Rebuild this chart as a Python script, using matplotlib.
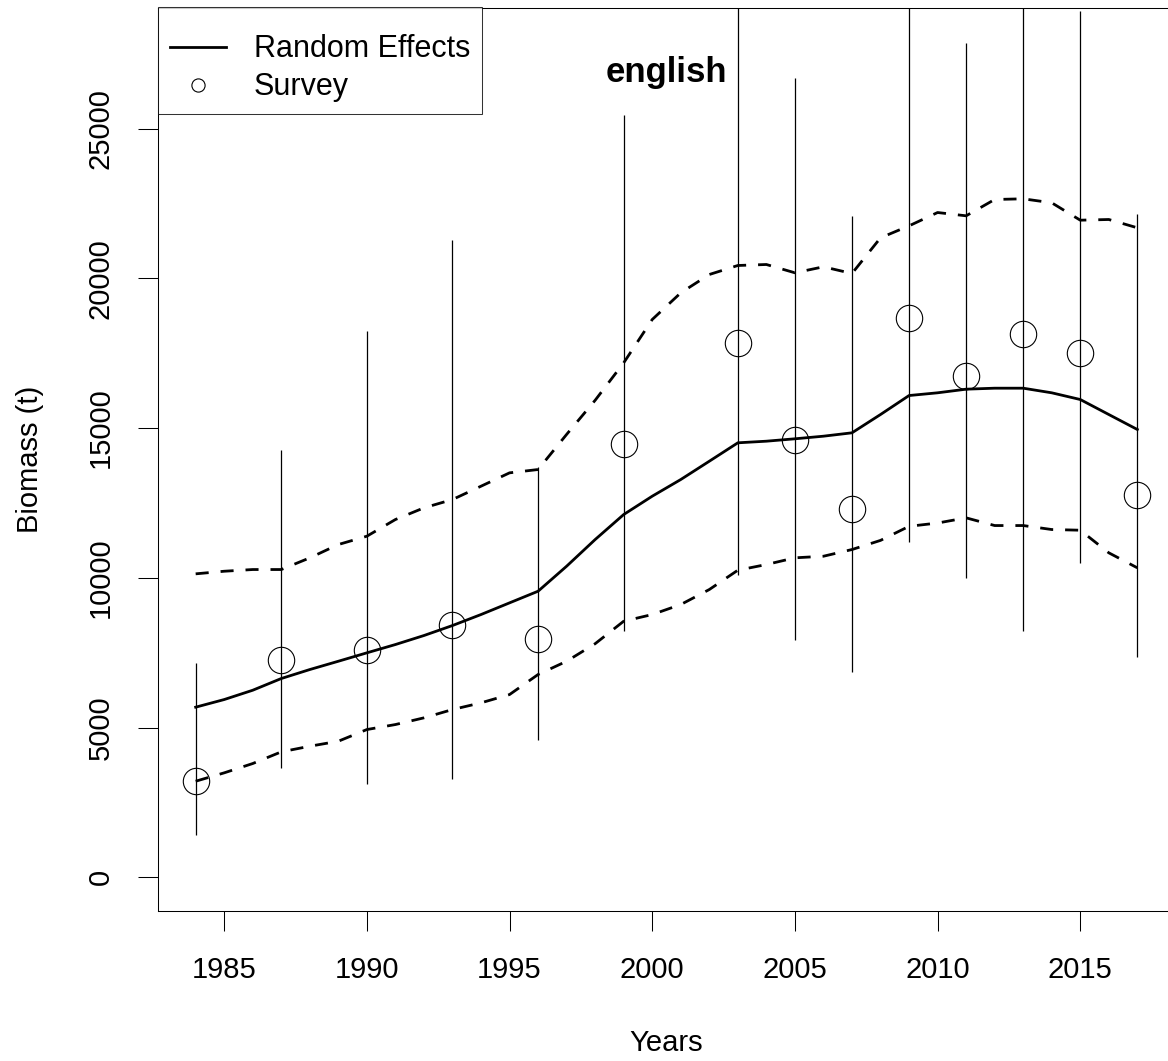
import matplotlib
matplotlib.use('Agg')
import matplotlib.pyplot as plt
from matplotlib.lines import Line2D

plt.rcParams['font.family'] = ['Liberation Sans', 'DejaVu Sans']

# Random effects estimate with upper / lower bounds (annual)
years = [1984, 1985, 1986, 1987, 1988, 1989, 1990, 1991, 1992, 1993, 1994, 1995,
         1996, 1997, 1998, 1999, 2000, 2001, 2002, 2003, 2004, 2005, 2006, 2007,
         2008, 2009, 2010, 2011, 2012, 2013, 2014, 2015, 2016, 2017]
re_est = [5680, 5935, 6246, 6637, 6937, 7214, 7495, 7772, 8073, 8407, 8774, 9164,
          9553, 10388, 11279, 12114, 12726, 13283, 13894, 14509, 14563, 14643, 14730, 14843,
          15454, 16088, 16179, 16300, 16333, 16333, 16179, 15955, 15454, 14954]
re_upper = [10133, 10220, 10277, 10277, 10667, 11112, 11390, 11947, 12337, 12615, 13060, 13506,
            13617, 14790, 15930, 17180, 18627, 19518, 20130, 20431, 20464, 20187, 20387, 20164,
            21355, 21755, 22200, 22090, 22635, 22658, 22525, 21944, 21967, 21690]
re_lower = [3207, 3487, 3798, 4188, 4376, 4543, 4933, 5100, 5324, 5601, 5825, 6102,
            6771, 7214, 7800, 8551, 8774, 9108, 9609, 10254, 10444, 10668, 10721, 10945,
            11250, 11720, 11830, 12003, 11746, 11746, 11613, 11590, 10835, 10334]

# Survey index with confidence interval
survey_years = [1984, 1987, 1990, 1993, 1996, 1999, 2003, 2005, 2007, 2009, 2011, 2013, 2015, 2017]
survey = [3230, 7272, 7606, 8441, 7963, 14475, 17849, 14619, 12315, 18661, 16734, 18150, 17515, 12782]
survey_lo = [1416, 3654, 3130, 3286, 4576, 8217, 10110, 7939, 6860, 11189, 10000, 8217, 10501, 7370]
survey_hi = [7160, 14285, 18237, 21266, 13700, 25470, 31510, 26700, 22100, 31120, 27870, 40090, 28925, 22150]

W, H = 1168, 1061
fig = plt.figure(figsize=(W / 100, H / 100), dpi=100)
# plot region in pixels: left 158, right 1175 (cut off), top 7.5, bottom 910.7
ax = fig.add_axes([158 / W, (H - 910.7) / H, (1175 - 158) / W, (910.7 - 7.5) / H])

ax.vlines(survey_years, survey_lo, survey_hi, colors='black', linewidth=0.9)
ax.plot(years, re_est, color='black', linewidth=2.0)
ax.plot(years, re_upper, color='black', linewidth=2.0, dashes=(4.7, 4.3))
ax.plot(years, re_lower, color='black', linewidth=2.0, dashes=(4.7, 4.3))
ax.plot(survey_years, survey, linestyle='none', marker='o', markersize=19,
        markerfacecolor='none', markeredgecolor='black', markeredgewidth=0.8)

ax.set_xlim(1982.68, 2018.32)
ax.set_ylim(-1117, 29047)
ax.set_xticks([1985, 1990, 1995, 2000, 2005, 2010, 2015])
ax.set_yticks([0, 5000, 10000, 15000, 20000, 25000])
ax.tick_params(direction='out', length=14.4, width=0.75, labelsize=21, pad=18)
ax.tick_params(axis='y', labelrotation=90, pad=17)
for lab in ax.get_yticklabels():
    lab.set_verticalalignment('center')
for s in ax.spines.values():
    s.set_linewidth(0.75)

ax.set_xlabel('Years', fontsize=21)
ax.xaxis.set_label_coords(0.5, (910.7 - 1043) / 903.2)
ax.xaxis.label.set_verticalalignment('center')
ax.set_ylabel('Biomass (t)', fontsize=21)
ax.yaxis.set_label_coords((30 - 158) / 1017, 0.5)
ax.yaxis.label.set_verticalalignment('center')

ax.text(0.5, (910.7 - 82) / 903.2, 'english', transform=ax.transAxes,
        ha='center', va='baseline', fontsize=25, fontweight='bold')

handles = [Line2D([], [], color='black', linewidth=2.0),
           Line2D([], [], linestyle='none', marker='o', markersize=9.5,
                  markerfacecolor='none', markeredgecolor='black', markeredgewidth=0.8)]
# blank tiny title gives the extra room above the first row, as in R's legend box
leg = ax.legend(handles, ['Random Effects', 'Survey'], loc='upper left',
                bbox_to_anchor=(0, 1), borderaxespad=0, fontsize=22,
                frameon=True, fancybox=False, edgecolor='black',
                handlelength=1.83, handletextpad=0.92, borderpad=0.39,
                labelspacing=0.26, title=' ', title_fontsize=5.6)
leg.get_frame().set_linewidth(0.75)

fig.savefig('out.png', dpi=100)
